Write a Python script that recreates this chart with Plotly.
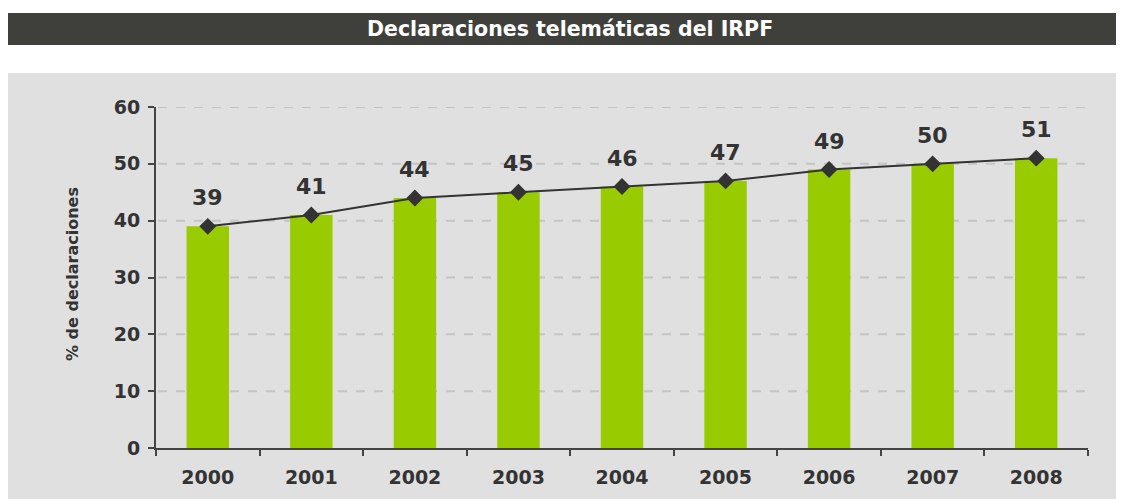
import plotly.graph_objects as go

years = ["2000", "2001", "2002", "2003", "2004", "2005", "2006", "2007", "2008"]
bar_values = [39, 41, 44, 45, 46, 47, 49, 50, 51]
line_values = [39, 41, 44, 45, 46, 47, 49, 50, 51]
y_ticks = [0, 10, 20, 30, 40, 50, 60]

# page has an 8px body margin; figure is sized to fill the rest
OFF = 8
W, H = 1124 - OFF, 499 - OFF
L, R, T, B = 148, 36, 99, 51
pw, ph = W - L - R, H - T - B

def px(x):  # reference page pixel -> paper coordinate
    return (x - OFF - L) / pw

def py(y):
    return (H - B - (y - OFF)) / ph

FONT = "DejaVu Sans"
TXT = "#333333"

fig = go.Figure()
fig.add_trace(go.Bar(x=years, y=bar_values, marker=dict(color="#99cc00", line=dict(width=0)),
                     width=0.41, hoverinfo="skip"))
fig.add_trace(go.Scatter(x=years, y=line_values, mode="lines+markers",
                         line=dict(color="#333333", width=2),
                         marker=dict(symbol="diamond", size=13, color="#333333"),
                         cliponaxis=False, hoverinfo="skip"))

shapes = [
    dict(type="rect", xref="paper", yref="paper", x0=px(8), x1=px(1124), y0=py(73), y1=py(499),
         fillcolor="#e0e0e0", line=dict(width=0), layer="below"),
    dict(type="rect", xref="paper", yref="paper", x0=px(8), x1=px(1124), y0=py(45), y1=py(13),
         fillcolor="#3f403b", line=dict(width=0), layer="below"),
]
for v in y_ticks[1:]:
    shapes.append(dict(type="line", xref="paper", yref="y", x0=px(158), x1=px(1086), y0=v, y1=v,
                       line=dict(color="#c4c4c4", width=2, dash="dash"), layer="below"))

annotations = [
    dict(text="<b>Declaraciones telemáticas del IRPF</b>", xref="paper", yref="paper",
         x=px(570), y=py(29), showarrow=False, xanchor="center", yanchor="middle",
         font=dict(family=FONT, size=20.5, color="white")),
    dict(text="<b>% de declaraciones</b>", xref="paper", yref="paper",
         x=px(72), y=py(274), showarrow=False, textangle=-90, xanchor="center", yanchor="middle",
         font=dict(family=FONT, size=16, color=TXT)),
]
for i, v in enumerate(line_values):
    annotations.append(dict(text="<b>%d</b>" % v, x=i, y=v, xref="x", yref="y", showarrow=False,
                            xanchor="center", yanchor="bottom", yshift=14,
                            font=dict(family=FONT, size=22, color=TXT)))

fig.update_layout(
    width=W, height=H,
    margin=dict(l=L, r=R, t=T, b=B, autoexpand=False),
    paper_bgcolor="white", plot_bgcolor="rgba(0,0,0,0)",
    showlegend=False,
    shapes=shapes,
    annotations=annotations,
    xaxis=dict(type="category", range=[-0.5, len(years) - 0.5], showgrid=False,
               showline=True, linecolor="#444444", linewidth=2,
               ticks="outside", ticklen=6, tickcolor="#444444", tickwidth=2,
               tickson="boundaries", tickangle=0, automargin=False,
               tickfont=dict(family=FONT, size=19, color=TXT, weight="bold"), ticklabelstandoff=11),
    yaxis=dict(range=[0, 60], tickvals=y_ticks, showgrid=False, zeroline=False,
               showline=True, linecolor="#444444", linewidth=2, automargin=False,
               ticks="outside", ticklen=6, tickcolor="#444444", tickwidth=2,
               tickfont=dict(family=FONT, size=19, color=TXT, weight="bold"), ticklabelstandoff=4),
)

fig.write_html("out.html")
